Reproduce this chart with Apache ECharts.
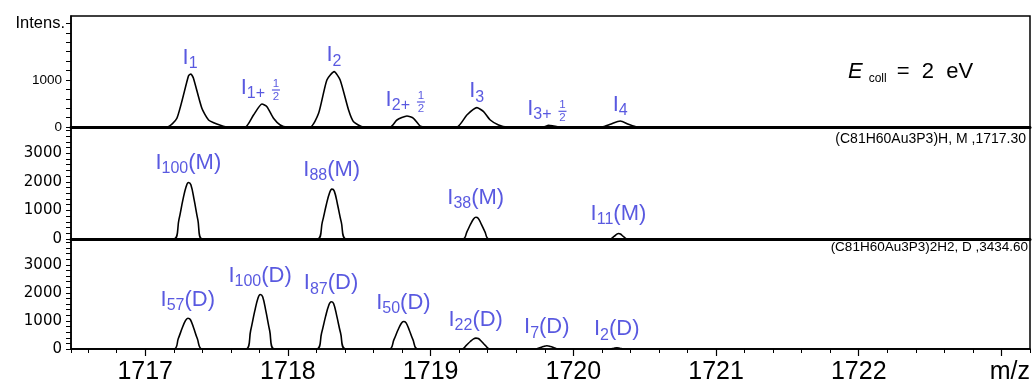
<!DOCTYPE html>
<html><head><meta charset="utf-8">
<script src="https://cdn.jsdelivr.net/npm/echarts@6/dist/echarts.min.js"></script>
<style>html,body{margin:0;padding:0;background:#fff}#c{width:1032px;height:385px}</style>
</head><body><div id="c"></div>
<script>
// ---------- data ----------
const X_MIN = 1716.48, X_MAX = 1723.2;
const TOP_MAX = 2360, SIM_MAX = 3920;
const xTickLabels = [1717, 1718, 1719, 1720, 1721, 1722];
const yTickLabelsTop = [0, 1000];
const yTickLabelsSim = [0, 1000, 2000, 3000];

// experimental spectrum (E_coll = 2 eV)
const expSpectrum = [
  [1716.48, 0],
  [1717.152, 0], [1717.222, 185], [1717.303, 1085], [1717.320, 1128], [1717.338, 1036], [1717.397, 398], [1717.444, 149], [1717.502, 64], [1717.573, 0],
  [1717.701, 0], [1717.759, 255], [1717.818, 489], [1717.853, 432], [1717.899, 185], [1717.946, 43], [1717.993, 0],
  [1718.156, 0], [1718.215, 291], [1718.273, 1000], [1718.324, 1177], [1718.366, 1000], [1718.425, 362], [1718.460, 113], [1718.530, 0],
  [1718.717, 0], [1718.764, 149], [1718.834, 234], [1718.880, 185], [1718.927, 20], [1718.970, 0],
  [1719.184, 0], [1719.254, 255], [1719.324, 411], [1719.371, 326], [1719.418, 149], [1719.476, 43], [1719.535, 0],
  [1719.791, 0], [1719.826, 36], [1719.861, 21], [1719.900, 0],
  [1720.200, 0], [1720.259, 57], [1720.329, 128], [1720.387, 57], [1720.446, 0],
  [1723.2, 0]
];
// simulated monomer M
const mSpectrum = [
  [1716.48, 0],
  [1717.200, 0], [1717.236, 667], [1717.264, 1368], [1717.287, 1835], [1717.303, 1975], [1717.320, 1895], [1717.343, 1368], [1717.369, 667], [1717.400, 0],
  [1718.205, 0], [1718.241, 590], [1718.269, 1200], [1718.292, 1620], [1718.308, 1744], [1718.325, 1675], [1718.348, 1200], [1718.374, 590], [1718.410, 0],
  [1719.225, 0], [1719.255, 260], [1719.280, 520], [1719.302, 710], [1719.317, 761], [1719.333, 730], [1719.355, 520], [1719.380, 260], [1719.410, 0],
  [1720.255, 0], [1720.285, 90], [1720.305, 170], [1720.317, 190], [1720.330, 175], [1720.350, 90], [1720.380, 0],
  [1723.2, 0]
];
// simulated dimer D
const dSpectrum = [
  [1716.48, 0],
  [1717.200, 0], [1717.232, 372], [1717.260, 756], [1717.283, 1018], [1717.299, 1095], [1717.316, 1051], [1717.339, 756], [1717.365, 372], [1717.400, 0],
  [1717.705, 0], [1717.739, 660], [1717.767, 1340], [1717.790, 1807], [1717.806, 1943], [1717.823, 1865], [1717.846, 1340], [1717.872, 660], [1717.905, 0],
  [1718.200, 0], [1718.236, 573], [1718.264, 1163], [1718.287, 1568], [1718.303, 1686], [1718.320, 1619], [1718.343, 1163], [1718.369, 573], [1718.405, 0],
  [1718.710, 0], [1718.743, 333], [1718.771, 676], [1718.794, 910], [1718.810, 979], [1718.827, 940], [1718.850, 676], [1718.876, 333], [1718.910, 0],
  [1719.220, 0], [1719.250, 132], [1719.278, 268], [1719.301, 362], [1719.317, 389], [1719.334, 373], [1719.357, 268], [1719.383, 132], [1719.415, 0],
  [1719.735, 0], [1719.765, 45], [1719.790, 90], [1719.815, 117], [1719.840, 90], [1719.865, 45], [1719.890, 0],
  [1720.260, 0], [1720.285, 25], [1720.305, 40], [1720.325, 25], [1720.350, 0],
  [1723.2, 0]
];

const expPeakMz  = [1717.315, 1717.818, 1718.324, 1718.834, 1719.324, 1719.826, 1720.329];
const expPeakInt = [1128, 489, 1177, 234, 411, 36, 128];
const expPeakSub = ['1', '1+', '2', '2+', '3', '3+', '4'];
const expPeakHalf = [false, true, false, true, false, true, false];

const mPeakMz  = [1717.303, 1718.308, 1719.317, 1720.317];
const mPeakInt = [1975, 1744, 761, 190];
const mPeakSub = ['100', '88', '38', '11'];

const dPeakMz  = [1717.299, 1717.806, 1718.303, 1718.810, 1719.317, 1719.815, 1720.305];
const dPeakInt = [1095, 1943, 1686, 979, 389, 117, 40];
const dPeakSub = ['57', '100', '87', '50', '22', '7', '2'];

const annotM = '(C81H60Au3P3)H, M ,1717.30';
const annotD = '(C81H60Au3P3)2H2, D ,3434.60';

// ---------- style ----------
const BLUE = '#2f2fd8';
const FONT = '"Liberation Sans", Arial, Helvetica, sans-serif';

const labelRich = {
  I:  { fontFamily: FONT, fontSize: 22, color: BLUE, lineHeight: 22, verticalAlign: 'top' },
  s:  { fontFamily: FONT, fontSize: 16, color: BLUE, lineHeight: 16, verticalAlign: 'bottom' },
  sp: { fontSize: 1, lineHeight: 25 }
};
const fracRich = {
  n: { fontFamily: FONT, fontSize: 11.5, color: BLUE, lineHeight: 10, align: 'center' },
  b: { fontSize: 1, width: 8, height: 1.2, lineHeight: 3, backgroundColor: BLUE, align: 'center' },
  d: { fontFamily: FONT, fontSize: 11.5, color: BLUE, lineHeight: 10, align: 'center' }
};

function pts(mz, it) { return mz.map((x, i) => [x, it[i]]); }

const baseX = { type: 'value', min: X_MIN, max: X_MAX, splitLine: { show: false } };
const lineSeries = (data, idx, smooth) => ({
  type: 'line', xAxisIndex: idx, yAxisIndex: idx, data, symbol: 'none', showSymbol: false,
  smooth, lineStyle: { color: '#000', width: 1.6 }, silent: true, z: 3, clip: true
});
const labelSeries = (data, xIdx, yIdx, fmt, dist, extra) => Object.assign({
  type: 'scatter', xAxisIndex: xIdx, yAxisIndex: yIdx, data, symbolSize: 1,
  itemStyle: { color: 'rgba(0,0,0,0)' }, silent: true, z: 5,
  label: { show: true, position: 'top', distance: dist, formatter: fmt, rich: labelRich }
}, extra || {});

const yAxisCommon = (grid, max, labels, fontFamily, fontSize) => ({
  type: 'value', gridIndex: grid, min: 0, max, interval: 200,
  axisLine: { show: true, lineStyle: { color: '#000', width: 1.5 } },
  axisTick: { show: true, length: 5, lineStyle: { color: '#000', width: 1 } },
  axisLabel: { color: '#000', fontFamily, fontSize, margin: 9,
    showMaxLabel: false,
    formatter: v => labels.includes(Math.round(v)) && Math.abs(v - Math.round(v)) < 1e-6 ? String(Math.round(v)) : '' },
  splitLine: { show: false }
});

const option = {
  animation: false,
  backgroundColor: '#fff',
  grid: [
    { left: 71, right: 2, top: 16, height: 111, show: true, borderColor: '#000', borderWidth: 1.5, backgroundColor: 'transparent' },
    { left: 71, right: 2, top: 127, height: 112, show: true, borderColor: '#000', borderWidth: 1.5, backgroundColor: 'transparent' },
    { left: 71, right: 2, top: 239, height: 111, show: true, borderColor: '#000', borderWidth: 1.5, backgroundColor: 'transparent' }
  ],
  xAxis: [
    Object.assign({}, baseX, { gridIndex: 0, position: 'bottom',
      axisLine: { lineStyle: { color: '#000', width: 3 } }, axisTick: { show: false }, axisLabel: { show: false } }),
    Object.assign({}, baseX, { gridIndex: 1, position: 'bottom',
      axisLine: { lineStyle: { color: '#000', width: 3 } }, axisTick: { show: false }, axisLabel: { show: false } }),
    Object.assign({}, baseX, { gridIndex: 2, position: 'bottom', offset: 0, splitNumber: 7,
      axisLine: { lineStyle: { color: '#000', width: 1.5 } },
      axisTick: { show: true, length: 7, lineStyle: { color: '#000', width: 1.2 } },
      axisLabel: { color: '#000', fontFamily: FONT, fontSize: 25, margin: 11, showMinLabel: false, showMaxLabel: false,
        formatter: v => { const r = Math.round(v); return (Math.abs(v - r) < 1e-6 && xTickLabels.includes(r)) ? String(r) : ''; } } }),
    Object.assign({}, baseX, { gridIndex: 2, position: 'bottom', offset: 0, splitNumber: 34,
      axisLine: { show: false },
      axisTick: { show: true, length: 4, lineStyle: { color: '#000', width: 1 } },
      axisLabel: { show: false } })
  ],
  yAxis: [
    yAxisCommon(0, TOP_MAX, yTickLabelsTop, FONT, 13.5),
    yAxisCommon(1, SIM_MAX, yTickLabelsSim, '"DejaVu Sans", sans-serif', 15),
    yAxisCommon(2, SIM_MAX, yTickLabelsSim, '"DejaVu Sans", sans-serif', 15)
  ],
  series: [
    lineSeries(expSpectrum, 0, 0.2),
    lineSeries(mSpectrum, 1, 0.4),
    lineSeries(dSpectrum, 2, 0.4),
    { type: 'line', xAxisIndex: 3, yAxisIndex: 2, data: [], silent: true },
    labelSeries(pts(expPeakMz, expPeakInt).map((p, i) => ({ value: p, label: expPeakHalf[i] ? { offset: [-9, 0] } : {} })), 0, 0,
      p => '{I|I}{s|' + expPeakSub[p.dataIndex] + '}{sp| }', 2),
    labelSeries(pts(expPeakMz, expPeakInt).filter((p, i) => expPeakHalf[i]), 0, 0,
      () => '{n|1}\n{b| }\n{d|2}', 2,
      { label: { show: true, position: 'top', distance: 2, offset: [14, 0], formatter: () => '{n|1}\n{b| }\n{d|2}', rich: fracRich, align: 'center' } }),
    labelSeries(pts(mPeakMz, mPeakInt), 1, 1,
      p => '{I|I}{s|' + mPeakSub[p.dataIndex] + '}{I|(M)}{sp| }', 5),
    labelSeries(pts(dPeakMz, dPeakInt), 2, 2,
      p => '{I|I}{s|' + dPeakSub[p.dataIndex] + '}{I|(D)}{sp| }', 4)
  ],
  graphic: [
    { type: 'text', x: 65, y: 23, style: { text: 'Intens.', font: '16.5px ' + FONT, fill: '#000',
      align: 'right', verticalAlign: 'middle', textAlign: 'right', textVerticalAlign: 'middle' } },
    { type: 'text', x: 848, y: 73, style: { text: '{E|E}{c|coll}{t|=  2  eV}{sp| }', fill: '#000',
      verticalAlign: 'middle', textVerticalAlign: 'middle',
      rich: {
        E: { fontFamily: FONT, fontStyle: 'italic', fontSize: 22, lineHeight: 22, verticalAlign: 'top', fill: '#000', color: '#000' },
        c: { fontFamily: FONT, fontSize: 12, lineHeight: 12, verticalAlign: 'bottom', padding: [0, 10, 0, 6], fill: '#000', color: '#000' },
        t: { fontFamily: FONT, fontSize: 22, lineHeight: 22, verticalAlign: 'top', fill: '#000', color: '#000' },
        sp: { fontSize: 1, lineHeight: 24 }
      } } },
    { type: 'text', x: 1026, y: 139, style: { text: annotM, font: '14px ' + FONT, fill: '#000',
      align: 'right', verticalAlign: 'middle', textAlign: 'right', textVerticalAlign: 'middle' } },
    { type: 'text', x: 1028, y: 247, style: { text: annotD, font: '13.5px ' + FONT, fill: '#000',
      align: 'right', verticalAlign: 'middle', textAlign: 'right', textVerticalAlign: 'middle' } },
    { type: 'text', x: 1030, y: 372, style: { text: 'm/z', font: '25px ' + FONT, fill: '#000',
      align: 'right', verticalAlign: 'middle', textAlign: 'right', textVerticalAlign: 'middle' } }
  ]
};

const chart = echarts.init(document.getElementById('c'), null, { renderer: 'canvas' });
chart.setOption(option);
</script>
</body></html>
